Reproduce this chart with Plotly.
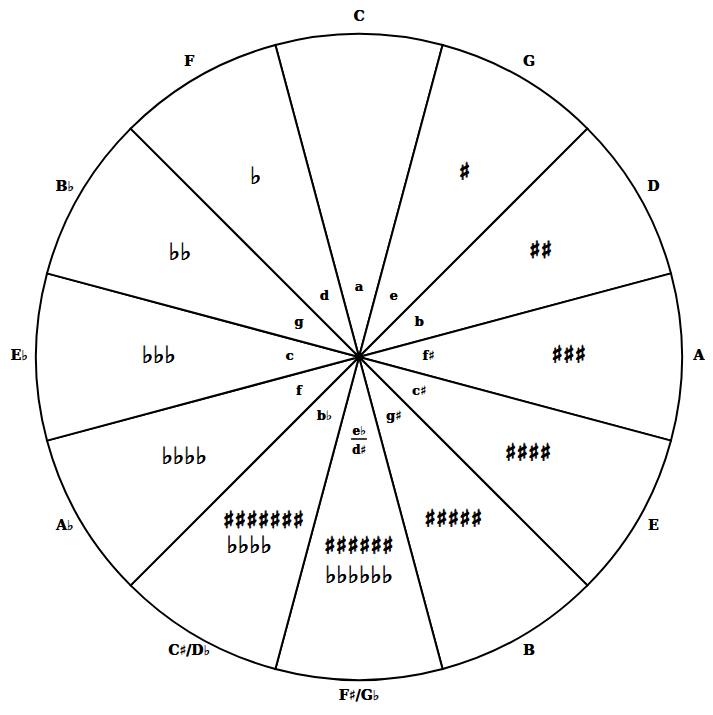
import plotly.graph_objects as go

# ---- data ----
major_keys = ["C", "G", "D", "A", "E", "B", "F♯/G♭", "C♯/D♭", "A♭", "E♭", "B♭", "F"]
minor_keys = ["a", "e", "b", "f♯", "c♯", "g♯", "", "b♭", "f", "c", "g", "d"]
sharps = ["", "♯", "♯♯", "♯♯♯", "♯♯♯♯", "♯♯♯♯♯", "♯♯♯♯♯♯", "♯♯♯♯♯♯♯", "", "", "", ""]
flats = ["", "", "", "", "", "", "♭♭♭♭♭♭", "♭♭♭♭", "♭♭♭♭", "♭♭♭", "♭♭", "♭"]
fraction_top = "e♭"
fraction_bottom = "d♯"

n = len(major_keys)
step = 360 / n
angles = [i * step for i in range(n)]

SERIF = "DejaVu Serif"
SYM = "DejaVu Sans"
HEAVY = "0.6px 0 0 black, -0.6px 0 0 black, 0 0.5px 0 black, 0 -0.5px 0 black"
MEDIUM = "0.4px 0 0 black, -0.3px 0 0 black"
LIGHT = "0.3px 0 0 black"

# style: radial placement of the signature rows
single_r = [0.64, 0.655, 0.65, 0.65, 0.605, 0.585, 0, 0, 0.625, 0.62, 0.64, 0.64]
sharp_row_r, flat_row_r = 0.59, 0.68


def sig_r(i, kind):
    if sharps[i] and flats[i]:
        return sharp_row_r if kind == "sharp" else flat_row_r
    return single_r[i]


fig = go.Figure()

# sectors
fig.add_trace(go.Barpolar(
    r=[1] * n, theta=angles, width=[step] * n,
    marker=dict(color="white", line=dict(color="black", width=2)),
    hoverinfo="skip", showlegend=False,
))

# centre dot
fig.add_trace(go.Scatterpolar(
    r=[0], theta=[0], mode="markers",
    marker=dict(color="black", size=8),
    hoverinfo="skip", showlegend=False,
))

# outer major key labels
fig.add_trace(go.Scatterpolar(
    r=[1.052] * n, theta=angles, mode="text",
    text=[f"<b>{k}</b>" for k in major_keys],
    textfont=dict(family=SERIF, size=14, color="black", shadow=LIGHT),
    textposition="middle center", cliponaxis=False,
    hoverinfo="skip", showlegend=False,
))

# inner minor key labels
fig.add_trace(go.Scatterpolar(
    r=[0.215] * n, theta=angles, mode="text",
    text=[f"<b>{k}</b>" if k else "" for k in minor_keys],
    textfont=dict(family=SERIF, size=13, color="black", shadow=LIGHT),
    textposition="middle center", cliponaxis=False,
    hoverinfo="skip", showlegend=False,
))

# e♭ / d♯ fraction in the F♯/G♭ sector
fs_theta = angles[6]
fig.add_trace(go.Scatterpolar(
    r=[0.232, 0.29], theta=[fs_theta, fs_theta], mode="text",
    text=[f"<b>{fraction_top}</b>", f"<b>{fraction_bottom}</b>"],
    textfont=dict(family=SERIF, size=12, color="black", shadow=LIGHT),
    textposition="middle center", cliponaxis=False,
    hoverinfo="skip", showlegend=False,
))
fig.add_trace(go.Scatterpolar(
    r=[0.255, 0.255], theta=[fs_theta - 5.5, fs_theta + 5.5], mode="lines",
    line=dict(color="black", width=1.5),
    hoverinfo="skip", showlegend=False,
))

# key signatures: sharps
fig.add_trace(go.Scatterpolar(
    r=[sig_r(i, "sharp") for i in range(n)], theta=angles, mode="text",
    text=[f"<b>{s}</b>" if s else "" for s in sharps],
    textfont=dict(family=SYM, size=24, color="black", shadow=HEAVY),
    textposition="middle center", cliponaxis=False,
    hoverinfo="skip", showlegend=False,
))
# key signatures: flats
fig.add_trace(go.Scatterpolar(
    r=[sig_r(i, "flat") for i in range(n)], theta=angles, mode="text",
    text=[f"<b>{s}</b>" if s else "" for s in flats],
    textfont=dict(family=SYM, size=24, color="black", shadow=MEDIUM),
    textposition="middle center", cliponaxis=False,
    hoverinfo="skip", showlegend=False,
))

# figure sits inside the page's 8px body margin
W, H = 705, 707
cx, cy, R = 351, 349, 323
RMAX = 1.08
Rd = R * RMAX
fig.update_layout(
    width=W, height=H,
    margin=dict(l=0, r=0, t=0, b=0),
    paper_bgcolor="white",
    showlegend=False,
    polar=dict(
        domain=dict(x=[(cx - Rd) / W, (cx + Rd) / W],
                    y=[max(0, (H - cy - Rd) / H), min(1, (H - cy + Rd) / H)]),
        bgcolor="white",
        bargap=0,
        radialaxis=dict(visible=False, range=[0, RMAX]),
        angularaxis=dict(rotation=90, direction="clockwise",
                         showticklabels=False, ticks="", showgrid=False,
                         showline=False),
    ),
)

fig.write_html("out.html")
